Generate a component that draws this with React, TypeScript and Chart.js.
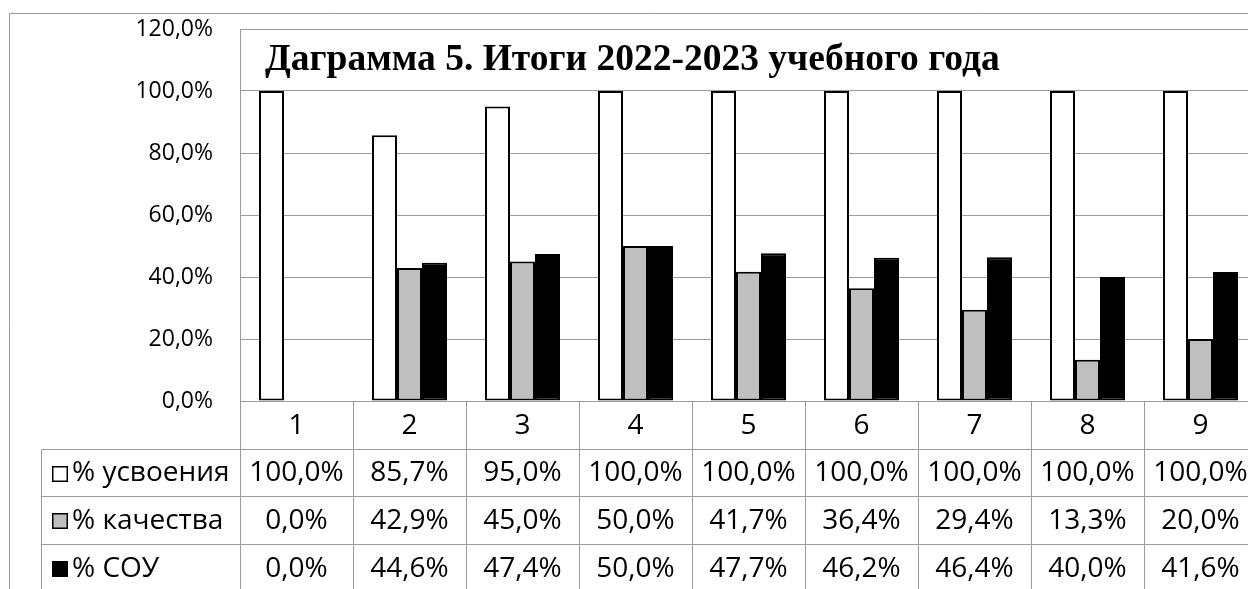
import React, { useEffect, useRef } from "react";
import { Chart, registerables } from "chart.js";

Chart.register(...registerables);

const categories = ["1", "2", "3", "4", "5", "6", "7", "8", "9"];
const seriesNames = ["% усвоения", "% качества", "% СОУ"];
const usvoenie = [100, 85.7, 95, 100, 100, 100, 100, 100, 100];
const kachestvo = [0, 42.9, 45, 50, 41.7, 36.4, 29.4, 13.3, 20];
const sou = [0, 44.6, 47.4, 50, 47.7, 46.2, 46.4, 40, 41.6];
const seriesColors = ["#ffffff", "#bfbfbf", "#000000"];
const yMin = 0;
const yMax = 120;
const yStep = 20;
const titleText = "Даграмма 5. Итоги 2022-2023 учебного года";

const GRID = "#9c9c9c";
const FONT = "'Open Sans', 'Noto Sans', sans-serif";

const fmt = (v: number) => v.toFixed(1).replace(".", ",") + "%";

const crisp = (v: number) => Math.round(v) + 0.5;

const framePlugin = {
  id: "frame",
  beforeDraw(chart: any) {
    const { ctx, width, height } = chart;
    ctx.save();
    ctx.fillStyle = "#ffffff";
    ctx.fillRect(0, 0, width, height);
    ctx.strokeStyle = GRID;
    ctx.lineWidth = 1;
    ctx.beginPath();
    ctx.moveTo(crisp(9), height);
    ctx.lineTo(crisp(9), crisp(13));
    ctx.lineTo(width, crisp(13));
    ctx.stroke();
    ctx.restore();
  },
};

const tablePlugin = {
  id: "dataTable",
  afterDraw(chart: any) {
    const { ctx, chartArea, scales, height } = chart;
    const x = scales.x;
    const n = categories.length;
    const cw = (x.right - x.left) / n;
    const rowH = [48, 47, 48, 48];
    const ys: number[] = [chartArea.bottom];
    rowH.forEach((h) => ys.push(ys[ys.length - 1] + h));
    const legendLeft = chartArea.left - 199;

    ctx.save();
    // title
    ctx.fillStyle = "#000";
    ctx.font = "bold 37.5px 'Liberation Serif', serif";
    ctx.textAlign = "left";
    ctx.textBaseline = "alphabetic";
    ctx.fillText(titleText, chartArea.left + 25, 70);

    // grid lines of table
    ctx.strokeStyle = GRID;
    ctx.lineWidth = 1;
    ctx.beginPath();
    ctx.moveTo(chartArea.left, crisp(ys[0]));
    ctx.lineTo(x.right, crisp(ys[0]));
    for (let r = 1; r <= 3; r++) {
      ctx.moveTo(legendLeft, crisp(ys[r]));
      ctx.lineTo(x.right, crisp(ys[r]));
    }
    for (let i = 0; i <= n; i++) {
      const bx = crisp(x.left + i * cw);
      ctx.moveTo(bx, ys[0]);
      ctx.lineTo(bx, height);
    }
    ctx.moveTo(crisp(legendLeft), ys[1]);
    ctx.lineTo(crisp(legendLeft), height);
    ctx.stroke();

    // texts
    ctx.fillStyle = "#000";
    ctx.font = `28px ${FONT}`;
    ctx.textAlign = "center";
    ctx.textBaseline = "middle";
    categories.forEach((c, i) => {
      ctx.fillText(c, x.getPixelForValue(i), (ys[0] + ys[1]) / 2 + 1);
    });
    chart.data.datasets.forEach((ds: any, r: number) => {
      const cy = (ys[r + 1] + ys[r + 2]) / 2 + 1;
      ds.data.forEach((v: number, i: number) => {
        ctx.fillText(fmt(v), x.getPixelForValue(i), cy);
      });
      // legend key
      const ks = 16;
      const kx = legendLeft + 11;
      const ky = Math.round(cy - ks / 2);
      ctx.fillStyle = seriesColors[r];
      ctx.fillRect(kx, ky, ks, ks);
      ctx.strokeStyle = "#000";
      ctx.lineWidth = 1.5;
      ctx.strokeRect(kx + 0.75, ky + 0.75, ks - 1.5, ks - 1.5);
      ctx.fillStyle = "#000";
      ctx.textAlign = "left";
      ctx.fillText(ds.label, kx + ks + 4, cy);
      ctx.textAlign = "center";
    });
    ctx.restore();
  },
};

export default function App() {
  const ref = useRef<HTMLCanvasElement | null>(null);

  useEffect(() => {
    if (!ref.current) return;
    const datasets = [usvoenie, kachestvo, sou].map((data, i) => ({
      label: seriesNames[i],
      data,
      backgroundColor: seriesColors[i],
      borderColor: "#000000",
      borderWidth: (c: any) => (c.raw === 0 ? 0 : 2),
      borderSkipped: false,
      categoryPercentage: 0.664,
      barPercentage: 1,
    }));
    const chart = new Chart(ref.current, {
      type: "bar",
      data: { labels: categories, datasets },
      options: {
        animation: false,
        responsive: false,
        devicePixelRatio: 1,
        layout: { padding: { top: 29, left: 0, right: 43, bottom: 239 } },
        plugins: {
          legend: { display: false },
          tooltip: { enabled: false },
          title: { display: false },
        },
        scales: {
          x: {
            display: false,
            offset: true,
          },
          y: {
            min: yMin,
            max: yMax,
            afterFit: (scale: any) => {
              scale.width = 240;
              scale.paddingTop = 0;
              scale.paddingBottom = 0;
            },
            ticks: {
              stepSize: yStep,
              padding: 27,
              color: "#000",
              font: { family: FONT, size: 23 },
              callback: (v: any) => fmt(Number(v)),
            },
            grid: { color: GRID, lineWidth: 1, drawTicks: false },
            border: { display: true, color: GRID, width: 1 },
          },
        },
      } as any,
      plugins: [framePlugin, tablePlugin],
    });
    return () => chart.destroy();
  }, []);

  return (
    <div
      style={{
        position: "fixed",
        left: 0,
        top: 0,
        width: 1248,
        height: 589,
        overflow: "hidden",
        background: "#fff",
      }}
    >
      <canvas ref={ref} width={1300} height={640} style={{ display: "block", width: 1300, height: 640 }} />
    </div>
  );
}
